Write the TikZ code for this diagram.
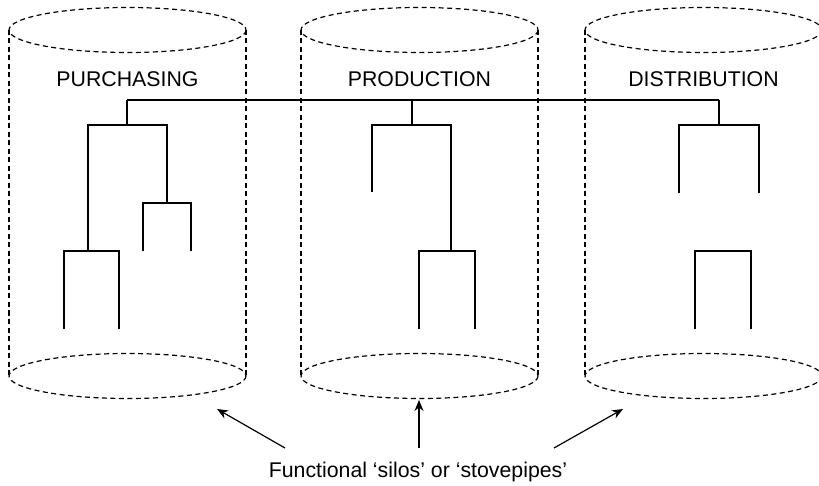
\documentclass[tikz,border=0pt]{standalone}
\usepackage{fontspec}
\setmainfont{Liberation Sans}
\usepackage{tikz}
\usetikzlibrary{arrows.meta}
\tikzstyle{silo}=[draw,line width=1.2pt,dash pattern=on 5pt off 3.5pt]
\tikzstyle{branch} = [draw,line width=1.5pt,line join=miter]
\tikzstyle{dept}=[font=\fontsize{21.3}{25}\selectfont,inner sep=0pt]
\tikzstyle{pointer} = [draw,line width=1.2pt,-{Stealth[length=11pt,width=9pt]}]

\begin{document}
\begin{tikzpicture}[x=1pt,y=-1pt]
    \useasboundingbox (0,0) rectangle (819,486);
    % First we draw the three silos
    \foreach \cx/\name/\txt in {127.5/pur/PURCHASING, 419.5/pro/PRODUCTION, 703.5/dis/DISTRIBUTION}{
        \path[silo] (\cx,30) ellipse (118.5 and 22.5);
        \path[silo] (\cx,376) ellipse (118.5 and 22.5);
        \path[silo] (\cx-118.5,30) -- (\cx-118.5,376);
        \path[silo] (\cx+118.5,30) -- (\cx+118.5,376);
        \node[dept] (\name) at (\cx,79) {\txt};
    }
    % Points of the charts
    \foreach \x/\y/\name in {127/100/pu0, 127/125/pu1, 88/125/pua, 167/125/pub,
        88/251/pua2, 167/203/pub2, 64/251/puc, 119/251/pud,
        64/329/puc2, 119/329/pud2, 143/203/pue, 191/203/puf,
        143/251/pue2, 191/251/puf2}
        \coordinate (\name) at (\x,\y);
    \foreach \x/\y/\name in {412/100/pr0, 412/125/pr1, 372/125/pra, 451/125/prb,
        372/192/pra2, 451/251/prb2, 419/251/prc, 475/251/prd,
        419/329/prc2, 475/329/prd2}
        \coordinate (\name) at (\x,\y);
    \foreach \x/\y/\name in {719/100/di0, 719/125/di1, 679/125/dia, 759/125/dib,
        679/193/dia2, 759/193/dib2, 695/251/dic, 751/251/did,
        695/329/dic2, 751/329/did2}
        \coordinate (\name) at (\x,\y);
    % Connect the points
    \path[branch] (pu0) -- (di0);
    \foreach \source/ \dest in {pu0/pu1, pr0/pr1, di0/di1}
        \path[branch] (\source) -- (\dest);
    \foreach \a/\b/\c/\d in {pua2/pua/pub/pub2, puc2/puc/pud/pud2, pue2/pue/puf/puf2,
        pra2/pra/prb/prb2, prc2/prc/prd/prd2, dia2/dia/dib/dib2, dic2/dic/did/did2}
        \path[branch] (\a) -- (\b) -- (\c) -- (\d);
    % Caption and arrows
    \node[dept] (silos) at (418,472) {Functional ‘silos’ or ‘stovepipes’};
    \foreach \x/\y/\name in {285/448/t1, 419/448/t2, 554/448/t3,
        217/409/h1, 419/400/h2, 623/409/h3}
        \coordinate (\name) at (\x,\y);
    \foreach \source/ \dest in {t1/h1, t2/h2, t3/h3}
        \path[pointer] (\source) -- (\dest);
\end{tikzpicture}
\end{document}
